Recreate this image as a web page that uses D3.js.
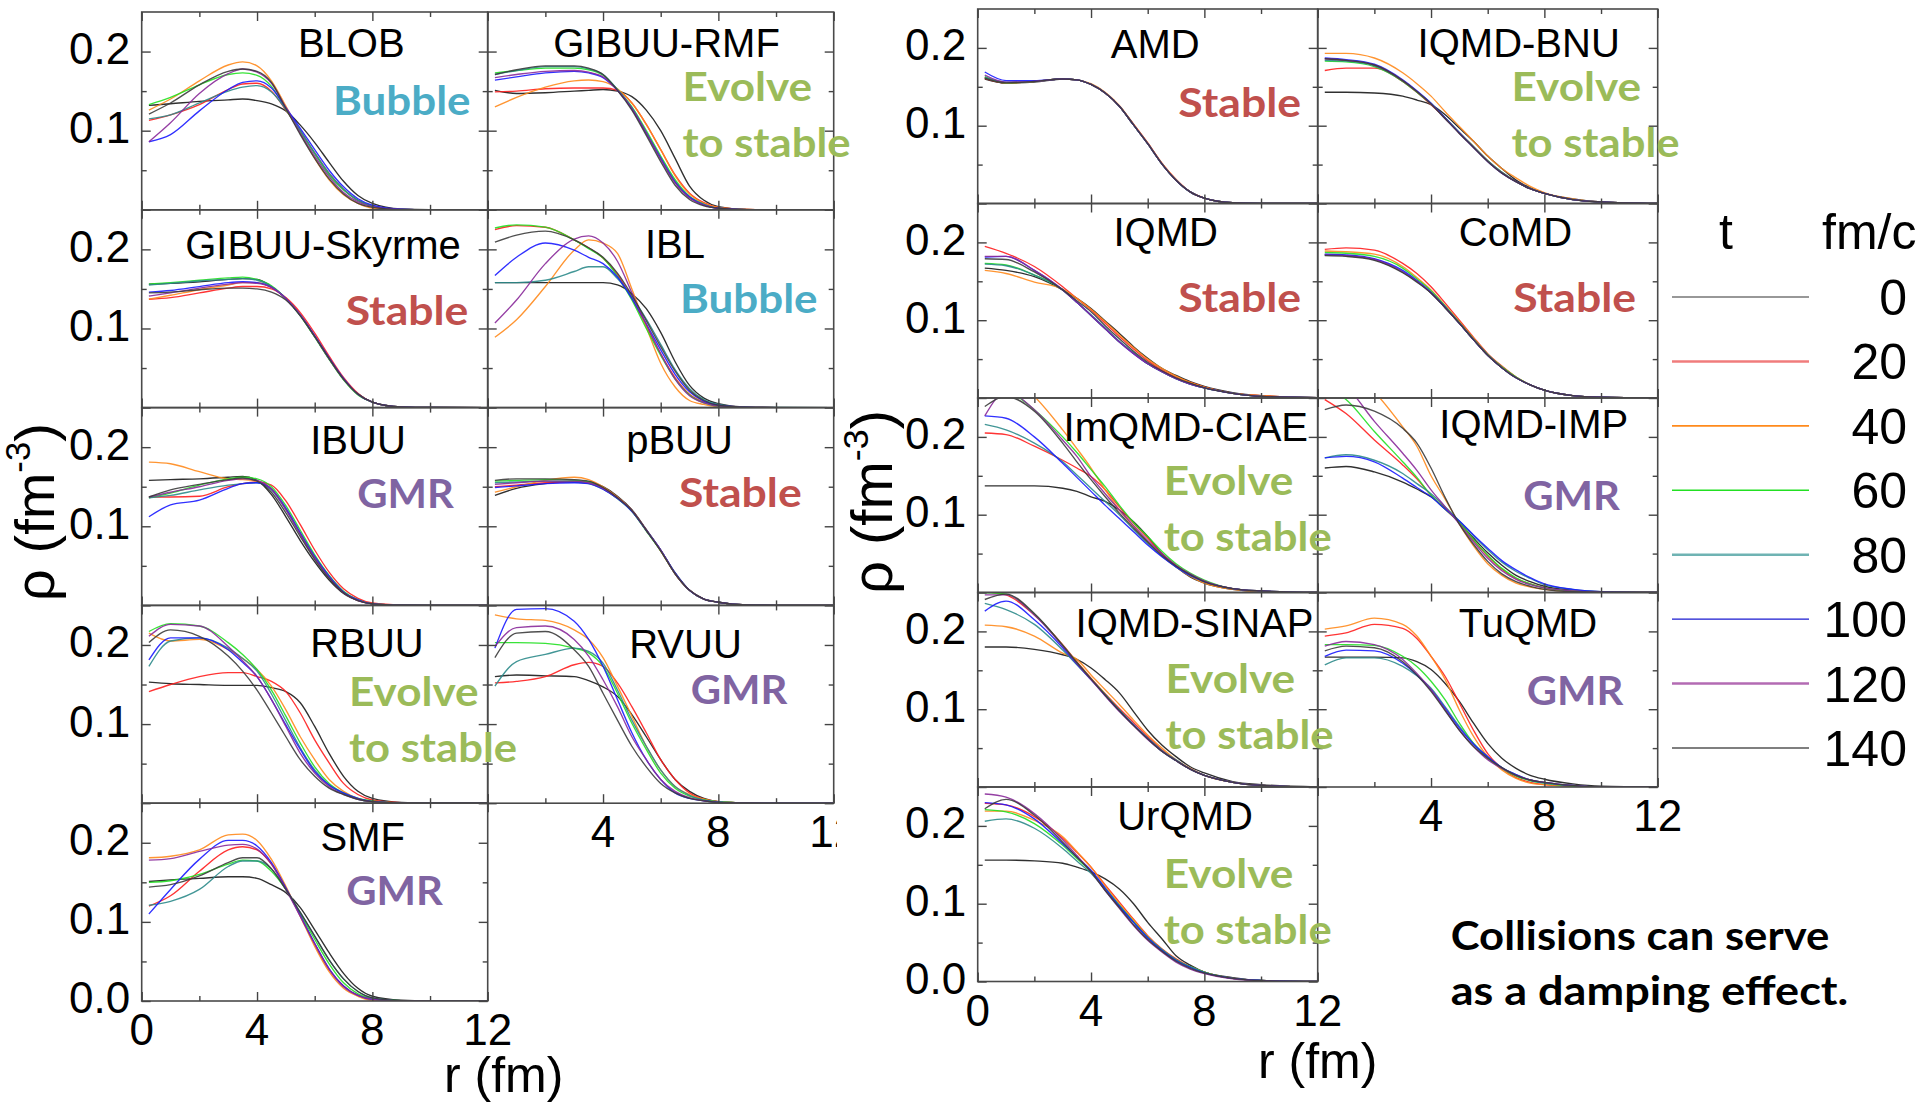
<!DOCTYPE html>
<html>
<head>
<meta charset="utf-8">
<script src="https://cdn.jsdelivr.net/npm/d3@7"></script>
<style>
  html, body { margin: 0; padding: 0; background: #fff; }
  svg { display: block; }
</style>
</head>
<body>
<svg id="chart" width="1917" height="1105"></svg>
<script>
// ---------------------------------------------------------------------------
// Data: radial density profiles rho(r) of each transport model at t = 0..140 fm/c
// ---------------------------------------------------------------------------
const R = [0.25, 1, 2, 3, 3.5, 4, 4.5, 5, 5.5, 6, 6.5, 7, 7.5, 8, 9, 10, 12];   // r (fm)
const TIMES = [0, 20, 40, 60, 80, 100, 120, 140];                                // t (fm/c)

const X_MAJOR = [0, 4, 8, 12];
const X_MINOR = [2, 6, 10];
const Y_MAJOR = [0, 0.1, 0.2];
const Y_MINOR = [0.05, 0.15];
const Y_TICK_TEXT = ['0.0', '0.1', '0.2'];
const X_TICK_TEXT = ['0', '4', '8', '12'];

const MODELS = ['BLOB', 'GIBUU-RMF', 'GIBUU-Skyrme', 'IBL', 'IBUU', 'pBUU', 'RBUU', 'RVUU', 'SMF',
                'AMD', 'IQMD-BNU', 'IQMD', 'CoMD', 'ImQMD-CIAE', 'IQMD-IMP', 'IQMD-SINAP', 'TuQMD', 'UrQMD'];
const BEHAVIOUR = ['Bubble', 'Evolve to stable', 'Stable', 'Bubble', 'GMR', 'Stable', 'Evolve to stable', 'GMR', 'GMR',
                   'Stable', 'Evolve to stable', 'Stable', 'Stable', 'Evolve to stable', 'GMR', 'Evolve to stable', 'GMR', 'Evolve to stable'];

const RHO_BLOB = [
  [0.132,0.134,0.137,0.139,0.140,0.138,0.134,0.125,0.107,0.085,0.060,0.036,0.018,0.008,0.001,0.0002,0],
  [0.113,0.120,0.133,0.152,0.159,0.160,0.150,0.126,0.100,0.072,0.046,0.026,0.012,0.005,0.0006,0.0001,0],
  [0.126,0.140,0.163,0.183,0.187,0.182,0.163,0.131,0.097,0.065,0.038,0.019,0.008,0.002,0.0003,0,0],
  [0.133,0.142,0.158,0.171,0.173,0.170,0.156,0.127,0.099,0.071,0.044,0.025,0.012,0.005,0.0005,0.0001,0],
  [0.115,0.120,0.135,0.150,0.155,0.157,0.149,0.127,0.100,0.072,0.046,0.026,0.012,0.005,0.0005,0.0001,0],
  [0.086,0.095,0.125,0.152,0.161,0.163,0.154,0.129,0.103,0.076,0.050,0.029,0.014,0.006,0.0008,0.0001,0],
  [0.086,0.110,0.147,0.172,0.178,0.174,0.160,0.129,0.097,0.068,0.042,0.022,0.010,0.004,0.0004,0,0],
  [0.121,0.135,0.158,0.175,0.178,0.175,0.161,0.128,0.095,0.065,0.039,0.020,0.008,0.003,0.0003,0,0]
];
const RHO_GIBUU_RMF = [
  [0.151,0.147,0.148,0.150,0.151,0.152,0.150,0.143,0.126,0.100,0.065,0.030,0.012,0.004,0.0005,0.0001,0],
  [0.149,0.150,0.153,0.154,0.154,0.154,0.151,0.135,0.108,0.076,0.044,0.021,0.009,0.003,0.0004,0,0],
  [0.130,0.142,0.155,0.163,0.164,0.162,0.153,0.135,0.108,0.076,0.043,0.020,0.008,0.003,0.0004,0,0],
  [0.173,0.176,0.179,0.179,0.177,0.170,0.152,0.130,0.100,0.068,0.038,0.017,0.007,0.002,0.0003,0,0],
  [0.171,0.176,0.181,0.181,0.178,0.171,0.152,0.129,0.098,0.066,0.036,0.016,0.007,0.002,0.0003,0,0],
  [0.164,0.168,0.173,0.175,0.173,0.167,0.151,0.128,0.097,0.065,0.035,0.016,0.006,0.002,0.0003,0,0],
  [0.167,0.171,0.175,0.176,0.174,0.168,0.151,0.128,0.097,0.064,0.034,0.015,0.006,0.002,0.0003,0,0],
  [0.171,0.177,0.182,0.182,0.179,0.171,0.151,0.126,0.094,0.061,0.031,0.013,0.005,0.002,0.0002,0,0]
];
const RHO_GIBUU_SKYRME = [
  [0.156,0.157,0.159,0.162,0.163,0.162,0.153,0.138,0.117,0.090,0.062,0.036,0.017,0.007,0.0008,0.0001,0],
  [0.137,0.139,0.145,0.151,0.153,0.153,0.150,0.139,0.120,0.094,0.065,0.038,0.018,0.007,0.0008,0.0001,0],
  [0.137,0.142,0.149,0.155,0.158,0.158,0.152,0.138,0.117,0.090,0.062,0.036,0.017,0.007,0.0008,0.0001,0],
  [0.156,0.158,0.161,0.164,0.165,0.162,0.154,0.138,0.116,0.089,0.061,0.035,0.016,0.007,0.0008,0.0001,0],
  [0.155,0.157,0.160,0.162,0.163,0.161,0.153,0.138,0.117,0.090,0.062,0.036,0.017,0.007,0.0008,0.0001,0],
  [0.146,0.148,0.153,0.158,0.159,0.158,0.152,0.138,0.117,0.091,0.063,0.037,0.017,0.007,0.0008,0.0001,0],
  [0.141,0.145,0.151,0.156,0.158,0.157,0.152,0.138,0.117,0.090,0.062,0.036,0.017,0.007,0.0008,0.0001,0],
  [0.145,0.146,0.149,0.151,0.151,0.150,0.146,0.136,0.116,0.090,0.062,0.036,0.017,0.007,0.0008,0.0001,0]
];
const RHO_IBL = [
  [0.158,0.158,0.158,0.158,0.158,0.158,0.155,0.144,0.125,0.095,0.058,0.028,0.012,0.005,0.0006,0.0001,0],
  [0.225,0.230,0.228,0.212,0.202,0.189,0.168,0.138,0.103,0.068,0.038,0.017,0.007,0.003,0.0004,0,0],
  [0.089,0.111,0.153,0.199,0.212,0.208,0.195,0.150,0.102,0.056,0.026,0.009,0.004,0.001,0.0002,0,0],
  [0.227,0.231,0.228,0.212,0.201,0.189,0.166,0.136,0.100,0.066,0.036,0.016,0.006,0.002,0.0003,0,0],
  [0.158,0.158,0.161,0.172,0.178,0.178,0.163,0.140,0.112,0.080,0.048,0.024,0.010,0.004,0.0005,0.0001,0],
  [0.167,0.190,0.208,0.199,0.190,0.182,0.165,0.138,0.106,0.073,0.042,0.020,0.008,0.003,0.0004,0,0],
  [0.107,0.136,0.182,0.213,0.217,0.208,0.185,0.145,0.105,0.068,0.036,0.015,0.006,0.002,0.0003,0,0],
  [0.209,0.218,0.223,0.212,0.202,0.190,0.170,0.142,0.110,0.077,0.046,0.022,0.009,0.003,0.0004,0,0]
];
const RHO_IBUU = [
  [0.158,0.159,0.160,0.162,0.163,0.158,0.140,0.112,0.082,0.055,0.032,0.015,0.006,0.002,0.0003,0,0],
  [0.137,0.137,0.138,0.150,0.154,0.156,0.152,0.132,0.102,0.070,0.042,0.021,0.009,0.003,0.0004,0,0],
  [0.181,0.179,0.169,0.160,0.159,0.157,0.147,0.122,0.091,0.061,0.036,0.017,0.007,0.002,0.0003,0,0],
  [0.136,0.142,0.152,0.160,0.162,0.160,0.150,0.126,0.095,0.064,0.038,0.018,0.007,0.002,0.0003,0,0],
  [0.136,0.139,0.146,0.152,0.154,0.155,0.146,0.121,0.090,0.061,0.036,0.017,0.007,0.002,0.0003,0,0],
  [0.112,0.127,0.133,0.148,0.154,0.155,0.147,0.123,0.092,0.062,0.037,0.017,0.007,0.002,0.0003,0,0],
  [0.137,0.143,0.150,0.158,0.160,0.158,0.147,0.121,0.090,0.060,0.035,0.016,0.006,0.002,0.0003,0,0],
  [0.137,0.146,0.153,0.159,0.161,0.157,0.143,0.117,0.087,0.058,0.034,0.016,0.006,0.002,0.0003,0,0]
];
const RHO_PBUU = [
  [0.139,0.148,0.154,0.157,0.156,0.150,0.138,0.121,0.096,0.070,0.041,0.019,0.008,0.004,0.0005,0.0001,0],
  [0.150,0.152,0.155,0.156,0.155,0.148,0.136,0.120,0.095,0.069,0.040,0.019,0.008,0.004,0.0005,0.0001,0],
  [0.143,0.150,0.158,0.162,0.159,0.150,0.137,0.120,0.095,0.069,0.040,0.019,0.008,0.004,0.0005,0.0001,0],
  [0.157,0.158,0.159,0.158,0.156,0.148,0.135,0.119,0.094,0.069,0.040,0.019,0.008,0.004,0.0005,0.0001,0],
  [0.155,0.156,0.157,0.156,0.154,0.147,0.135,0.119,0.095,0.070,0.041,0.019,0.008,0.004,0.0005,0.0001,0],
  [0.149,0.151,0.154,0.155,0.154,0.147,0.135,0.119,0.095,0.070,0.041,0.019,0.008,0.004,0.0005,0.0001,0],
  [0.153,0.155,0.157,0.157,0.155,0.148,0.136,0.120,0.095,0.070,0.040,0.019,0.008,0.004,0.0005,0.0001,0],
  [0.158,0.160,0.160,0.159,0.157,0.149,0.136,0.120,0.095,0.069,0.040,0.019,0.008,0.004,0.0005,0.0001,0]
];
const RHO_RBUU = [
  [0.153,0.151,0.150,0.149,0.149,0.149,0.146,0.141,0.127,0.097,0.063,0.034,0.015,0.006,0.001,0.0002,0],
  [0.141,0.150,0.160,0.165,0.165,0.160,0.154,0.141,0.114,0.080,0.051,0.025,0.011,0.004,0.0006,0.0001,0],
  [0.215,0.205,0.207,0.194,0.183,0.169,0.148,0.118,0.084,0.055,0.030,0.015,0.006,0.002,0.0003,0,0],
  [0.217,0.227,0.224,0.203,0.188,0.169,0.143,0.110,0.076,0.046,0.025,0.013,0.006,0.003,0.0005,0,0],
  [0.173,0.205,0.209,0.196,0.183,0.167,0.138,0.104,0.070,0.042,0.023,0.012,0.005,0.002,0.0003,0,0],
  [0.181,0.209,0.209,0.194,0.178,0.160,0.131,0.099,0.068,0.040,0.023,0.013,0.006,0.002,0.0003,0,0],
  [0.211,0.226,0.224,0.198,0.180,0.160,0.131,0.097,0.063,0.038,0.021,0.011,0.005,0.002,0.0003,0,0],
  [0.203,0.219,0.211,0.186,0.167,0.143,0.114,0.084,0.055,0.034,0.019,0.011,0.005,0.002,0.0003,0,0]
];
const RHO_RVUU = [
  [0.160,0.162,0.161,0.160,0.155,0.147,0.135,0.112,0.084,0.055,0.030,0.015,0.006,0.002,0.0003,0,0],
  [0.152,0.154,0.160,0.175,0.178,0.173,0.152,0.122,0.089,0.055,0.030,0.013,0.005,0.002,0.0003,0,0],
  [0.238,0.233,0.231,0.219,0.207,0.184,0.148,0.110,0.072,0.042,0.021,0.011,0.005,0.002,0.0003,0,0],
  [0.203,0.203,0.202,0.196,0.190,0.173,0.139,0.101,0.068,0.038,0.019,0.009,0.004,0.002,0.0003,0,0],
  [0.148,0.179,0.188,0.196,0.192,0.177,0.143,0.105,0.072,0.042,0.021,0.010,0.004,0.002,0.0003,0,0],
  [0.196,0.245,0.246,0.230,0.207,0.173,0.131,0.089,0.055,0.030,0.013,0.006,0.003,0.001,0.0002,0,0],
  [0.198,0.222,0.224,0.207,0.186,0.156,0.122,0.084,0.055,0.030,0.015,0.007,0.003,0.001,0.0002,0,0],
  [0.184,0.215,0.217,0.194,0.173,0.139,0.105,0.072,0.046,0.025,0.013,0.006,0.003,0.001,0.0002,0,0]
];
const RHO_SMF = [
  [0.151,0.153,0.155,0.157,0.157,0.155,0.147,0.137,0.118,0.090,0.061,0.035,0.016,0.006,0.001,0.0002,0],
  [0.120,0.133,0.164,0.191,0.195,0.191,0.173,0.143,0.108,0.072,0.040,0.019,0.007,0.002,0.0003,0,0],
  [0.181,0.183,0.191,0.210,0.211,0.203,0.179,0.145,0.107,0.069,0.037,0.016,0.006,0.001,0.0002,0,0],
  [0.150,0.152,0.160,0.173,0.178,0.177,0.164,0.141,0.110,0.078,0.047,0.023,0.009,0.003,0.0004,0,0],
  [0.121,0.126,0.141,0.170,0.177,0.177,0.167,0.141,0.112,0.082,0.052,0.028,0.012,0.004,0.0005,0,0],
  [0.110,0.141,0.179,0.203,0.203,0.196,0.175,0.143,0.108,0.073,0.041,0.019,0.007,0.002,0.0003,0,0],
  [0.178,0.180,0.189,0.197,0.198,0.192,0.173,0.141,0.107,0.072,0.040,0.018,0.007,0.002,0.0003,0,0],
  [0.144,0.147,0.158,0.175,0.181,0.181,0.167,0.141,0.112,0.082,0.052,0.028,0.012,0.004,0.0005,0,0]
];
const RHO_AMD = [
  [0.160,0.155,0.156,0.160,0.159,0.153,0.142,0.125,0.101,0.077,0.051,0.030,0.015,0.007,0.001,0.0002,0],
  [0.161,0.155,0.157,0.160,0.159,0.153,0.142,0.125,0.102,0.078,0.052,0.031,0.015,0.007,0.001,0.0002,0],
  [0.162,0.155,0.157,0.160,0.159,0.154,0.143,0.126,0.102,0.078,0.052,0.031,0.015,0.007,0.001,0.0002,0],
  [0.163,0.155,0.157,0.160,0.159,0.153,0.142,0.125,0.101,0.077,0.051,0.030,0.015,0.007,0.001,0.0002,0],
  [0.162,0.156,0.157,0.160,0.159,0.153,0.142,0.125,0.101,0.077,0.051,0.030,0.015,0.007,0.001,0.0002,0],
  [0.169,0.158,0.158,0.160,0.159,0.153,0.142,0.125,0.101,0.077,0.051,0.030,0.015,0.007,0.001,0.0002,0],
  [0.165,0.156,0.157,0.160,0.159,0.153,0.142,0.125,0.101,0.077,0.051,0.030,0.015,0.007,0.001,0.0002,0],
  [0.161,0.155,0.157,0.160,0.159,0.153,0.142,0.125,0.101,0.077,0.051,0.030,0.015,0.007,0.001,0.0002,0]
];
const RHO_IQMD_BNU = [
  [0.143,0.143,0.142,0.138,0.133,0.127,0.114,0.097,0.080,0.061,0.045,0.030,0.020,0.013,0.006,0.002,0],
  [0.171,0.174,0.174,0.157,0.143,0.127,0.110,0.091,0.073,0.055,0.040,0.028,0.019,0.013,0.005,0.002,0],
  [0.193,0.193,0.187,0.168,0.154,0.138,0.118,0.099,0.080,0.061,0.045,0.033,0.022,0.014,0.006,0.002,0],
  [0.183,0.182,0.176,0.157,0.143,0.128,0.110,0.091,0.073,0.055,0.040,0.028,0.019,0.013,0.005,0.002,0],
  [0.184,0.183,0.177,0.158,0.144,0.129,0.110,0.091,0.073,0.055,0.040,0.028,0.019,0.013,0.005,0.002,0],
  [0.187,0.185,0.179,0.159,0.145,0.129,0.110,0.091,0.072,0.054,0.039,0.028,0.019,0.013,0.005,0.002,0],
  [0.186,0.184,0.178,0.158,0.144,0.128,0.109,0.090,0.072,0.054,0.039,0.028,0.019,0.013,0.005,0.002,0],
  [0.186,0.184,0.178,0.158,0.144,0.128,0.109,0.090,0.072,0.054,0.039,0.028,0.019,0.013,0.005,0.002,0]
];
const RHO_IQMD = [
  [0.167,0.164,0.156,0.139,0.128,0.115,0.099,0.083,0.066,0.051,0.038,0.029,0.021,0.015,0.007,0.003,0.0005],
  [0.195,0.186,0.169,0.143,0.128,0.113,0.096,0.079,0.063,0.048,0.036,0.027,0.020,0.014,0.006,0.003,0.0005],
  [0.164,0.160,0.149,0.140,0.128,0.114,0.098,0.081,0.065,0.050,0.038,0.028,0.020,0.014,0.006,0.003,0.0005],
  [0.173,0.171,0.158,0.139,0.123,0.106,0.089,0.072,0.058,0.044,0.034,0.025,0.018,0.013,0.006,0.002,0.0005],
  [0.172,0.170,0.158,0.139,0.123,0.107,0.090,0.073,0.058,0.044,0.034,0.025,0.018,0.013,0.006,0.002,0.0005],
  [0.181,0.182,0.164,0.139,0.123,0.106,0.089,0.072,0.057,0.044,0.034,0.025,0.018,0.013,0.006,0.002,0.0005],
  [0.182,0.182,0.164,0.139,0.123,0.106,0.089,0.072,0.057,0.044,0.034,0.025,0.018,0.013,0.006,0.002,0.0005],
  [0.179,0.178,0.162,0.139,0.125,0.111,0.093,0.076,0.060,0.046,0.035,0.026,0.019,0.013,0.006,0.002,0.0005]
];
const RHO_COMD = [
  [0.184,0.183,0.178,0.162,0.150,0.135,0.116,0.096,0.075,0.055,0.039,0.026,0.017,0.010,0.003,0.001,0],
  [0.191,0.193,0.190,0.173,0.160,0.143,0.122,0.100,0.078,0.057,0.041,0.027,0.017,0.010,0.003,0.001,0],
  [0.189,0.188,0.185,0.169,0.155,0.139,0.119,0.098,0.077,0.056,0.040,0.027,0.017,0.010,0.003,0.001,0],
  [0.187,0.186,0.182,0.167,0.153,0.138,0.118,0.097,0.076,0.056,0.040,0.027,0.017,0.010,0.003,0.001,0],
  [0.184,0.183,0.178,0.162,0.150,0.135,0.116,0.096,0.075,0.055,0.039,0.026,0.017,0.010,0.003,0.001,0],
  [0.185,0.184,0.179,0.164,0.151,0.136,0.117,0.096,0.075,0.055,0.039,0.026,0.017,0.010,0.003,0.001,0],
  [0.184,0.183,0.178,0.162,0.150,0.135,0.116,0.096,0.075,0.055,0.039,0.026,0.017,0.010,0.003,0.001,0],
  [0.183,0.182,0.177,0.161,0.149,0.135,0.116,0.096,0.075,0.055,0.039,0.026,0.017,0.010,0.003,0.001,0]
];
const RHO_IMQMD_CIAE = [
  [0.137,0.137,0.137,0.134,0.130,0.123,0.117,0.106,0.091,0.072,0.050,0.033,0.020,0.012,0.004,0.001,0],
  [0.205,0.203,0.188,0.170,0.160,0.149,0.132,0.110,0.089,0.070,0.050,0.035,0.023,0.014,0.005,0.002,0],
  [0.290,0.280,0.252,0.209,0.185,0.160,0.132,0.106,0.085,0.065,0.047,0.033,0.021,0.012,0.004,0.001,0],
  [0.275,0.262,0.235,0.200,0.180,0.158,0.136,0.112,0.090,0.072,0.053,0.037,0.025,0.016,0.005,0.002,0],
  [0.216,0.209,0.192,0.168,0.151,0.134,0.117,0.100,0.081,0.063,0.047,0.033,0.022,0.014,0.005,0.002,0],
  [0.227,0.224,0.200,0.166,0.148,0.130,0.112,0.095,0.078,0.061,0.046,0.033,0.022,0.014,0.005,0.002,0],
  [0.227,0.258,0.235,0.196,0.175,0.149,0.127,0.106,0.086,0.067,0.050,0.035,0.024,0.015,0.005,0.002,0],
  [0.239,0.252,0.233,0.192,0.168,0.145,0.123,0.102,0.083,0.065,0.048,0.034,0.023,0.014,0.005,0.002,0]
];
const RHO_IQMD_IMP = [
  [0.160,0.162,0.155,0.142,0.133,0.123,0.108,0.090,0.070,0.051,0.035,0.022,0.014,0.008,0.003,0.001,0],
  [0.248,0.230,0.196,0.164,0.146,0.125,0.107,0.090,0.067,0.047,0.030,0.018,0.011,0.006,0.002,0.0005,0],
  [0.310,0.290,0.258,0.213,0.188,0.150,0.120,0.088,0.060,0.037,0.022,0.012,0.007,0.004,0.001,0.0003,0],
  [0.265,0.248,0.207,0.168,0.148,0.125,0.107,0.090,0.068,0.048,0.031,0.019,0.011,0.006,0.002,0.0005,0],
  [0.173,0.177,0.170,0.153,0.140,0.127,0.110,0.092,0.073,0.055,0.039,0.027,0.018,0.010,0.004,0.001,0],
  [0.173,0.175,0.168,0.147,0.135,0.123,0.107,0.092,0.074,0.057,0.041,0.029,0.019,0.011,0.004,0.001,0],
  [0.280,0.265,0.220,0.179,0.157,0.132,0.110,0.088,0.065,0.044,0.028,0.017,0.010,0.006,0.002,0.0005,0],
  [0.235,0.241,0.233,0.211,0.192,0.160,0.122,0.088,0.062,0.040,0.024,0.014,0.008,0.004,0.001,0.0003,0]
];
const RHO_IQMD_SINAP = [
  [0.180,0.180,0.177,0.170,0.164,0.153,0.138,0.121,0.097,0.073,0.054,0.039,0.026,0.018,0.007,0.003,0],
  [0.251,0.247,0.221,0.183,0.161,0.140,0.120,0.101,0.083,0.065,0.048,0.034,0.023,0.015,0.006,0.002,0],
  [0.208,0.206,0.194,0.172,0.164,0.144,0.125,0.106,0.086,0.067,0.050,0.035,0.024,0.015,0.006,0.002,0],
  [0.250,0.248,0.222,0.182,0.160,0.139,0.119,0.099,0.080,0.062,0.046,0.034,0.023,0.015,0.006,0.002,0],
  [0.236,0.228,0.209,0.176,0.157,0.138,0.118,0.099,0.080,0.063,0.047,0.035,0.023,0.015,0.006,0.002,0],
  [0.226,0.239,0.215,0.179,0.158,0.138,0.118,0.098,0.080,0.062,0.046,0.034,0.023,0.015,0.006,0.002,0],
  [0.247,0.247,0.221,0.181,0.159,0.138,0.117,0.097,0.079,0.061,0.046,0.034,0.023,0.015,0.006,0.002,0],
  [0.241,0.248,0.223,0.182,0.160,0.139,0.118,0.098,0.079,0.062,0.046,0.034,0.023,0.015,0.006,0.002,0]
];
const RHO_TUQMD = [
  [0.167,0.167,0.167,0.166,0.161,0.151,0.133,0.110,0.082,0.056,0.037,0.024,0.015,0.010,0.004,0.001,0],
  [0.194,0.198,0.209,0.204,0.191,0.168,0.142,0.108,0.073,0.043,0.024,0.012,0.006,0.003,0.001,0,0],
  [0.203,0.207,0.217,0.209,0.194,0.168,0.138,0.099,0.065,0.039,0.022,0.011,0.005,0.003,0.001,0,0],
  [0.183,0.183,0.182,0.168,0.155,0.136,0.112,0.082,0.056,0.037,0.024,0.014,0.008,0.005,0.001,0,0],
  [0.157,0.166,0.166,0.155,0.143,0.127,0.103,0.078,0.056,0.039,0.025,0.016,0.009,0.005,0.002,0,0],
  [0.168,0.176,0.175,0.159,0.144,0.125,0.101,0.076,0.055,0.039,0.025,0.016,0.009,0.006,0.002,0,0],
  [0.181,0.187,0.183,0.164,0.146,0.125,0.099,0.073,0.052,0.035,0.024,0.015,0.009,0.006,0.002,0,0],
  [0.175,0.181,0.179,0.161,0.144,0.123,0.098,0.073,0.052,0.037,0.025,0.015,0.009,0.006,0.002,0,0]
];
const RHO_URQMD = [
  [0.156,0.156,0.155,0.152,0.147,0.141,0.132,0.119,0.100,0.076,0.055,0.033,0.021,0.012,0.005,0.0013,0],
  [0.229,0.227,0.212,0.184,0.166,0.147,0.124,0.102,0.080,0.059,0.042,0.029,0.019,0.012,0.004,0.0015,0],
  [0.219,0.219,0.207,0.186,0.167,0.147,0.123,0.100,0.079,0.058,0.041,0.028,0.019,0.012,0.004,0.0015,0],
  [0.221,0.218,0.203,0.175,0.158,0.141,0.120,0.098,0.077,0.057,0.041,0.028,0.019,0.012,0.004,0.0015,0],
  [0.206,0.209,0.197,0.171,0.155,0.139,0.118,0.096,0.076,0.057,0.041,0.028,0.019,0.012,0.004,0.0015,0],
  [0.230,0.227,0.209,0.177,0.160,0.143,0.120,0.097,0.076,0.056,0.040,0.027,0.018,0.011,0.004,0.0015,0],
  [0.241,0.237,0.216,0.182,0.162,0.141,0.117,0.094,0.072,0.053,0.038,0.025,0.016,0.010,0.0035,0.001,0],
  [0.222,0.234,0.214,0.179,0.160,0.141,0.117,0.095,0.073,0.054,0.039,0.026,0.017,0.011,0.004,0.001,0]
];

// one density table per model, in MODELS order
const DENSITIES = [RHO_BLOB, RHO_GIBUU_RMF, RHO_GIBUU_SKYRME, RHO_IBL, RHO_IBUU, RHO_PBUU, RHO_RBUU, RHO_RVUU, RHO_SMF,
                   RHO_AMD, RHO_IQMD_BNU, RHO_IQMD, RHO_COMD, RHO_IMQMD_CIAE, RHO_IQMD_IMP, RHO_IQMD_SINAP, RHO_TUQMD, RHO_URQMD];

// ---------------------------------------------------------------------------
// Styles and layout
// ---------------------------------------------------------------------------
const COLORS = ['#1a1a1a', '#ff1e1e', '#ff8a1c', '#22e022', '#2e8b8b', '#1a1aff', '#8a2a9a', '#3c3c3c'];
const LEGEND_COLORS = ['#333333', '#f07c7c', '#ff8a1c', '#22e022', '#6fb3b3', '#1a1ad0', '#b36bb3', '#555555'];
const LEGEND_WIDTHS = [1.2, 2.6, 1.6, 1.6, 2.6, 1.3, 2.6, 1.5];
const TAG_STYLE = {
  'Bubble': { color: '#4bacc6', widths: [137.5] },
  'Stable': { color: '#c0504d', widths: [122.7] },
  'GMR': { color: '#8064a2', widths: [96.6] },
  'Evolve to stable': { color: '#9bbb59', widths: [129.7, 168] }
};

// two figure blocks, each a 2-column stack of panels
const BLOCKS = [
  { x0: 141.7, y0: 12, pw: 346, ph: 197.8 },
  { x0: 977.7, y0: 9,  pw: 340, ph: 194.5 }
];
// [block, column, row] per model
const SLOTS = [[0,0,0],[0,1,0],[0,0,1],[0,1,1],[0,0,2],[0,1,2],[0,0,3],[0,1,3],[0,0,4],
               [1,0,0],[1,1,0],[1,0,1],[1,1,1],[1,0,2],[1,1,2],[1,0,3],[1,1,3],[1,0,4]];
// panel title centre x and baseline
const NAME_POS = [[351.3,57.3],[666.5,56.7],[323,259],[675,258.3],[358,454],[679.5,454],[367,657.3],[685.5,658.3],[362.8,851],
                  [1155.3,58.3],[1518.7,56.7],[1165.7,246],[1515.5,245.7],[1185.8,440.7],[1533.8,437.7],[1194.5,637.3],[1528,636.7],[1185,830]];
// behaviour tag left x and first baseline
const TAG_POS = [[333,115],[682.5,100.7],[345.7,325],[680,313.3],[357.3,508.3],[679,507.3],[349,706],[690.7,704],[346.3,904.5],
                 [1178.3,116.7],[1511.5,100.7],[1178.3,311.7],[1513.3,311.7],[1163.7,495],[1523.3,510],[1165.5,692.7],[1526.7,705],[1163.7,888.3]];

const AXIS_FONT = "'Liberation Sans', Arial, sans-serif";
const TAG_FONT = "Lato, 'Open Sans', sans-serif";

const svg = d3.select('#chart');
svg.append('rect').attr('width', 1917).attr('height', 1105).attr('fill', '#fff');
const defs = svg.append('defs');

// clip for the cut-off right edge of the first block
defs.append('clipPath').attr('id', 'blockClip').append('rect').attr('x', 0).attr('y', 0).attr('width', 837).attr('height', 1105);

const lastRow = [ [4, 3], [4, 3] ];  // last row per column for each block

MODELS.forEach((model, i) => {
  const [b, col, row] = SLOTS[i];
  const B = BLOCKS[b];
  const px = B.x0 + col * B.pw, py = B.y0 + row * B.ph;
  const x = d3.scaleLinear().domain([0, 12]).range([0, B.pw]);
  const y = d3.scaleLinear().domain([0, 0.25]).range([B.ph, 0]);

  const g = svg.append('g').attr('transform', `translate(${px},${py})`);
  const clipId = 'panelClip' + i;
  defs.append('clipPath').attr('id', clipId).append('rect').attr('width', B.pw).attr('height', B.ph);

  const line = d3.line()
    .x((d, j) => x(R[j]))
    .y(d => y(d))
    .curve(d3.curveMonotoneX);

  g.append('g').attr('clip-path', `url(#${clipId})`)
    .selectAll('path').data(DENSITIES[i]).join('path')
    .attr('d', line)
    .attr('fill', 'none')
    .attr('stroke', (d, k) => COLORS[k])
    .attr('stroke-width', 1.35)
    .attr('stroke-opacity', 0.9);

  // frame
  g.append('rect').attr('width', B.pw).attr('height', B.ph)
    .attr('fill', 'none').attr('stroke', '#4a4a4a').attr('stroke-width', 1.6);

  // inward ticks on all four sides
  const addAxis = (axis, tx, ty) => {
    const a = g.append('g').attr('transform', `translate(${tx},${ty})`).call(axis);
    a.select('.domain').remove();
    a.selectAll('text').remove();
    a.selectAll('line').attr('stroke', '#444').attr('stroke-width', 1.4);
  };
  [[X_MAJOR, 9], [X_MINOR, 5]].forEach(([vals, len]) => {
    addAxis(d3.axisBottom(x).tickValues(vals).tickSize(-len), 0, B.ph);
    addAxis(d3.axisTop(x).tickValues(vals).tickSize(-len), 0, 0);
  });
  [[Y_MAJOR, 9], [Y_MINOR, 5]].forEach(([vals, len]) => {
    addAxis(d3.axisLeft(y).tickValues(vals).tickSize(-len), 0, 0);
    addAxis(d3.axisRight(y).tickValues(vals).tickSize(-len), B.pw, 0);
  });

  // y tick labels on the left column
  if (col === 0) {
    Y_MAJOR.forEach((v, k) => {
      if (v === 0 && row !== lastRow[b][0]) return;
      g.append('text')
        .attr('x', -11.5).attr('y', y(v) + 12.5)
        .attr('text-anchor', 'end')
        .attr('font-family', AXIS_FONT).attr('font-size', 44)
        .text(Y_TICK_TEXT[k]);
    });
  }
  // x tick labels under the lowest panel of each column
  if (row === lastRow[b][col]) {
    const host = (b === 0 && col === 1) ? svg.append('g').attr('clip-path', 'url(#blockClip)') : svg;
    X_MAJOR.forEach((v, k) => {
      if (col === 1 && v === 0) return;
      host.append('text')
        .attr('x', px + x(v)).attr('y', py + B.ph + 44)
        .attr('text-anchor', 'middle')
        .attr('font-family', AXIS_FONT).attr('font-size', 44)
        .text(X_TICK_TEXT[k]);
    });
  }
});

// panel titles
MODELS.forEach((model, i) => {
  svg.append('text')
    .attr('x', NAME_POS[i][0]).attr('y', NAME_POS[i][1])
    .attr('text-anchor', 'middle')
    .attr('font-family', AXIS_FONT).attr('font-size', 40)
    .attr('fill', '#000')
    .text(model);
});

// behaviour tags
BEHAVIOUR.forEach((tag, i) => {
  const st = TAG_STYLE[tag];
  const lines = tag === 'Evolve to stable' ? ['Evolve', 'to stable'] : [tag];
  lines.forEach((t, k) => {
    svg.append('text')
      .attr('x', TAG_POS[i][0]).attr('y', TAG_POS[i][1] + k * 56)
      .attr('font-family', TAG_FONT).attr('font-weight', 700).attr('font-size', 40)
      .attr('fill', st.color)
      .attr('textLength', st.widths[k]).attr('lengthAdjust', 'spacingAndGlyphs')
      .text(t);
  });
});

// axis titles
const yTitle = (cx, cy, size) => {
  const t = svg.append('text')
    .attr('transform', `translate(${cx},${cy}) rotate(-90)`)
    .attr('text-anchor', 'middle')
    .attr('font-family', AXIS_FONT).attr('font-size', size);
  t.append('tspan').text('\u03C1 (fm');
  t.append('tspan').attr('font-size', size * 0.62).attr('dy', -size * 0.42).text('-3');
  t.append('tspan').attr('dy', size * 0.42).text(')');
};
yTitle(54, 512, 56);
yTitle(892, 502, 58);

const xTitle = (x0, base) => svg.append('text')
  .attr('x', x0).attr('y', base)
  .attr('font-family', AXIS_FONT).attr('font-size', 50)
  .text('r (fm)');
xTitle(444, 1092);
xTitle(1258, 1078);

// legend
svg.append('text').attr('x', 1726).attr('y', 249).attr('text-anchor', 'middle')
  .attr('font-family', AXIS_FONT).attr('font-size', 50).text('t');
svg.append('text').attr('x', 1822).attr('y', 249)
  .attr('font-family', AXIS_FONT).attr('font-size', 50).text('fm/c');
const legendY = d3.scaleLinear().domain([0, 140]).range([297, 748]);
const legend = svg.append('g');
legend.selectAll('line').data(TIMES).join('line')
  .attr('x1', 1672).attr('x2', 1809)
  .attr('y1', d => legendY(d)).attr('y2', d => legendY(d))
  .attr('stroke', (d, k) => LEGEND_COLORS[k])
  .attr('stroke-width', (d, k) => LEGEND_WIDTHS[k]);
legend.selectAll('text').data(TIMES).join('text')
  .attr('x', 1907).attr('y', d => legendY(d) + 18)
  .attr('text-anchor', 'end')
  .attr('font-family', AXIS_FONT).attr('font-size', 50)
  .text(d => d);

// closing remark
const NOTE = ['Collisions can serve', 'as a damping effect.'];
const NOTE_WIDTHS = [378.6, 397.6];
NOTE.forEach((s, k) => {
  svg.append('text')
    .attr('x', 1450.7).attr('y', 950 + k * 55)
    .attr('font-family', TAG_FONT).attr('font-weight', 700).attr('font-size', 41)
    .attr('textLength', NOTE_WIDTHS[k]).attr('lengthAdjust', 'spacingAndGlyphs')
    .text(s);
});
</script>
</body>
</html>
